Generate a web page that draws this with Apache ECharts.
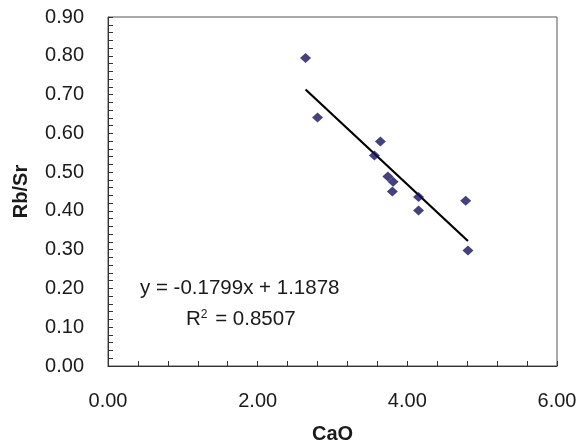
<!DOCTYPE html>
<html>
<head>
<meta charset="utf-8">
<style>
  html, body { margin: 0; padding: 0; background: #fff; }
  #chart { width: 576px; height: 445px; }
</style>
<script src="https://cdn.jsdelivr.net/npm/echarts@6/dist/echarts.min.js"></script>
</head>
<body>
<div id="chart"></div>
<script>
// CaO vs Rb/Sr samples
const caoValues = [2.64, 2.80, 3.64, 3.56, 3.74, 3.81, 3.80, 4.15, 4.15, 4.78, 4.81];
const rbSrValues = [0.794, 0.641, 0.579, 0.543, 0.489, 0.475, 0.450, 0.436, 0.401, 0.426, 0.298];

// linear trendline as printed on the chart
const slope = -0.1799;
const intercept = 1.1878;
const rSquared = 0.8507;

const xTicks = [0, 2, 4, 6];
const yTicks = [0, 0.1, 0.2, 0.3, 0.4, 0.5, 0.6, 0.7, 0.8, 0.9];

const points = caoValues.map((x, i) => [x, rbSrValues[i]]);
const xMin = Math.min(...caoValues);
const xMax = Math.max(...caoValues);
const trendLine = [xMin, xMax].map((x) => [x, slope * x + intercept]);

const font = 'Liberation Sans, Arial, sans-serif';
const axisColor = '#333';

const chart = echarts.init(document.getElementById('chart'));
chart.setOption({
  animation: false,
  textStyle: { fontFamily: font },
  grid: {
    left: 108,
    right: 19,
    top: 17,
    bottom: 79,
    show: true,
    borderColor: '#555',
    borderWidth: 1,
    outerBoundsMode: 'none',
    containLabel: false,
  },
  xAxis: {
    type: 'value',
    min: xTicks[0],
    max: xTicks[xTicks.length - 1],
    interval: 2,
    name: 'CaO',
    nameLocation: 'middle',
    nameGap: 58,
    nameTextStyle: { fontSize: 20, fontWeight: 'bold', color: '#1a1a1a', fontFamily: font },
    axisLine: { show: true, lineStyle: { color: axisColor, width: 1 } },
    axisTick: { show: true, inside: true, length: 5, lineStyle: { color: axisColor } },
    minorTick: { show: true, splitNumber: 5, length: 5, lineStyle: { color: axisColor } },
    splitLine: { show: false },
    axisLabel: {
      margin: 25,
      fontSize: 20,
      color: '#1a1a1a',
      fontFamily: font,
      formatter: (v) => v.toFixed(2),
    },
  },
  yAxis: {
    type: 'value',
    min: yTicks[0],
    max: yTicks[yTicks.length - 1],
    interval: 0.1,
    name: 'Rb/Sr',
    nameLocation: 'middle',
    nameRotate: 90,
    nameGap: 77,
    nameTextStyle: { fontSize: 20, fontWeight: 'bold', color: '#1a1a1a', fontFamily: font },
    axisLine: { show: true, lineStyle: { color: axisColor, width: 1 } },
    axisTick: { show: true, inside: true, length: 5, lineStyle: { color: axisColor } },
    minorTick: { show: true, splitNumber: 5, length: 5, lineStyle: { color: axisColor } },
    splitLine: { show: false },
    axisLabel: {
      margin: 24,
      fontSize: 20,
      color: '#1a1a1a',
      fontFamily: font,
      formatter: (v) => v.toFixed(2),
    },
  },
  graphic: [
    {
      type: 'text',
      left: 140,
      top: 278,
      style: {
        text: 'y = -0.1799x + 1.1878',
        font: '20.5px ' + font,
        fill: '#1a1a1a',
      },
    },
    {
      type: 'text',
      left: 186,
      top: 309,
      style: {
        text: '{r|R}{sup|2}{r| = ' + rSquared.toFixed(4) + '}',
        fill: '#1a1a1a',
        rich: {
          r: { fontSize: 20.5, fontFamily: font, color: '#1a1a1a', verticalAlign: 'bottom' },
          sup: { fontSize: 12, fontFamily: font, color: '#1a1a1a', verticalAlign: 'top', padding: [0, 2, 8, 0] },
        },
      },
    },
  ],
  series: [
    {
      type: 'scatter',
      data: points,
      symbol: 'diamond',
      symbolSize: [11, 10],
      itemStyle: { color: '#17115e' },
      z: 3,
    },
    {
      type: 'line',
      data: trendLine,
      symbol: 'none',
      lineStyle: { color: '#000', width: 2.2 },
      z: 2,
    },
  ],
});
</script>
</body>
</html>
